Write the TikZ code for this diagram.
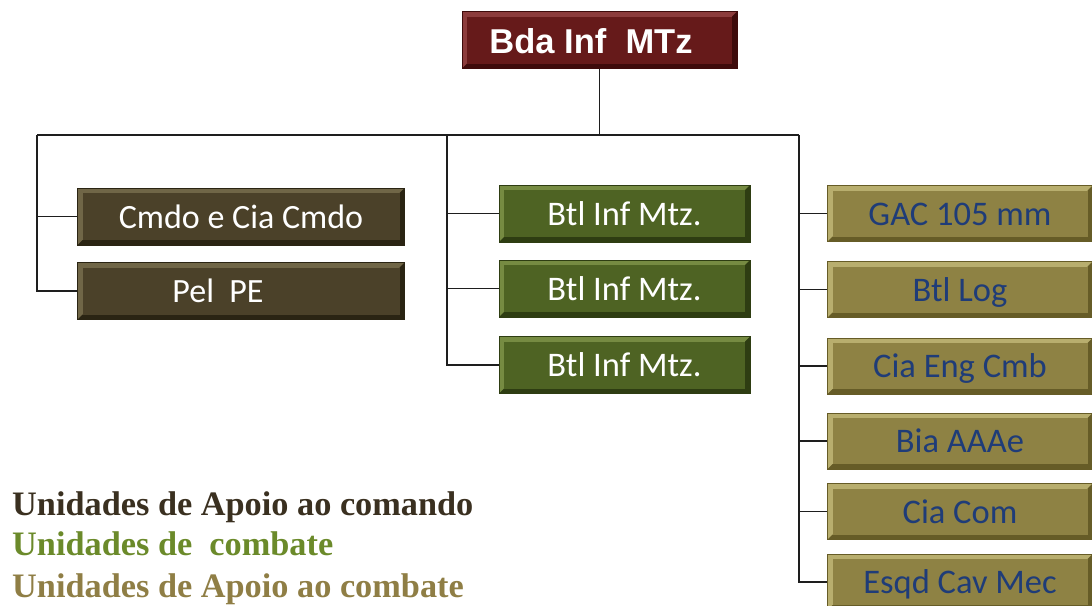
\documentclass[tikz,border=0pt]{standalone}
\usepackage{fontspec}
\newfontfamily\carl{Carlito}
\newfontfamily\arialf{Liberation Sans}
\newfontfamily\timesf{Liberation Serif}
\definecolor{mrMain}{HTML}{661A1A}
\definecolor{mrLight}{HTML}{8C3C3C}
\definecolor{mrDark}{HTML}{3E0B0B}
\definecolor{brMain}{HTML}{4B4129}
\definecolor{brLight}{HTML}{706647}
\definecolor{brDark}{HTML}{2A2413}
\definecolor{grMain}{HTML}{4E6323}
\definecolor{grLight}{HTML}{768B42}
\definecolor{grDark}{HTML}{2E3D12}
\definecolor{tnMain}{HTML}{8E8244}
\definecolor{tnLight}{HTML}{B8AE6E}
\definecolor{tnDark}{HTML}{665C27}
\definecolor{tnText}{HTML}{1F3C78}
\definecolor{lgCmd}{HTML}{3A3020}
\definecolor{lgCmb}{HTML}{6B8A2A}
\definecolor{lgSup}{HTML}{8F7E45}
\definecolor{wire}{HTML}{1E1E1E}
\tikzset{
  % bevelled box: #1 face, #2 light edge, #3 dark edge
  bevelbox/.style n args={3}{rectangle, inner sep=0pt, fill=#2, draw=#3, line width=0.8pt,
    path picture={
      \fill[#3] (path picture bounding box.south west) -- (path picture bounding box.south east)
        -- (path picture bounding box.north east)
        -- ([xshift=-5pt,yshift=-5pt]path picture bounding box.north east)
        -- ([xshift=-5pt,yshift=5pt]path picture bounding box.south east)
        -- ([xshift=5pt,yshift=5pt]path picture bounding box.south west) -- cycle;
      \fill[#1] ([xshift=5pt,yshift=-5pt]path picture bounding box.north west)
        rectangle ([xshift=-5pt,yshift=5pt]path picture bounding box.south east);
    }},
  hqbox/.style={bevelbox={mrMain}{mrLight}{mrDark}, minimum width=275pt, minimum height=57pt,
    font=\arialf\bfseries\fontsize{34.5pt}{40pt}\selectfont, text=white, text height=26pt, text depth=0pt},
  cmdbox/.style={bevelbox={brMain}{brLight}{brDark}, minimum width=327pt, minimum height=57pt,
    font=\carl\fontsize{34pt}{40pt}\selectfont, text=white, text height=23pt, text depth=0pt},
  cmbbox/.style={bevelbox={grMain}{grLight}{grDark}, minimum width=251pt, minimum height=57pt,
    font=\carl\fontsize{34.5pt}{40pt}\selectfont, text=white, text height=23pt, text depth=0pt},
  supbox/.style={bevelbox={tnMain}{tnLight}{tnDark}, minimum width=265pt, minimum height=56pt,
    font=\carl\fontsize{34.5pt}{40pt}\selectfont, text=tnText, text height=23pt, text depth=0pt},
  link/.style={draw=wire, line width=1.5pt},
  legend/.style={anchor=base west, inner sep=0pt, font=\timesf\bfseries\fontsize{34.3pt}{40pt}\selectfont}
}
\begin{document}
\begin{tikzpicture}[x=1pt,y=-1pt]
\useasboundingbox (0,0) rectangle (1092,605);
\clip (0,0) rectangle (1092,605);

% headquarters
\node[hqbox] (hq) at (599.5,40) {Bda Inf\ \ MTz\hspace*{17pt}};

% command support units
\node[cmdbox] (l1) at (241,216.5) {Cmdo e Cia Cmdo};
\node[cmdbox] (l2) at (241,291) {Pel\ \ PE\hspace*{46pt}};

% combat units
\node[cmbbox] (m1) at (624.5,213.5) {Btl Inf Mtz.};
\node[cmbbox] (m2) at (624.5,288.5) {Btl Inf Mtz.};
\node[cmbbox] (m3) at (624.5,365) {Btl Inf Mtz.};

% combat support units
\node[supbox] (r1) at (960,213.5) {GAC 105 mm};
\node[supbox] (r2) at (960,289.5) {Btl Log};
\node[supbox] (r3) at (960,366) {Cia Eng Cmb};
\node[supbox] (r4) at (960,441) {Bia AAAe};
\node[supbox] (r5) at (960,511.5) {Cia Com};
\node[supbox] (r6) at (960,582) {Esqd Cav Mec};

% bus lines
\coordinate (busL) at (37,135);
\coordinate (busM) at (447,135);
\coordinate (busR) at (799,135);
\draw[link] (hq.south) -- (hq.south |- busL);
\draw[link] (busL) -- (busR);

\draw[link] (busL) |- (l2.west);
\draw[link] (busL |- l1.west) -- (l1.west);

\draw[link] (busM) |- (m3.west);
\draw[link] (busM |- m1.west) -- (m1.west);
\draw[link] (busM |- m2.west) -- (m2.west);

\draw[link] (busR) |- (r6.west);
\foreach \n in {r1,r2,r3,r4,r5}
  \draw[link] (busR |- \n.west) -- (\n.west);

% legend
\node[legend, text=lgCmd] (lg1) at (12,515) {Unidades de Apoio ao comando};
\node[legend, text=lgCmb] (lg2) at (12,555) {Unidades de\ \ combate};
\node[legend, text=lgSup] (lg3) at (12,597) {Unidades de Apoio ao combate};
\end{tikzpicture}
\end{document}
